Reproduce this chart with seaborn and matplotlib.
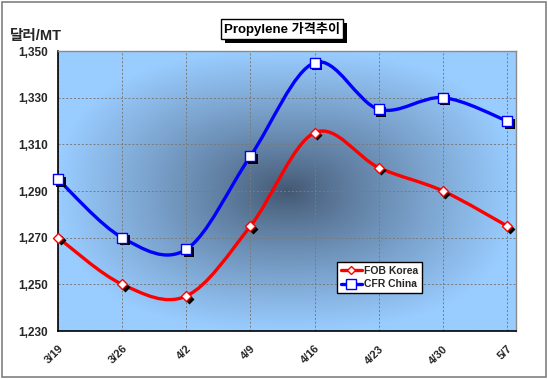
import numpy as np
import pandas as pd
import matplotlib
matplotlib.use("Agg")
import matplotlib.pyplot as plt
import matplotlib.transforms as mtransforms
from matplotlib.path import Path
from matplotlib.patches import PathPatch, Rectangle
from matplotlib.lines import Line2D
import seaborn as sns

# data
dates = ["3/19", "3/26", "4/2", "4/9", "4/16", "4/23", "4/30", "5/7"]
fob_korea = [1270, 1250, 1245, 1275, 1315, 1300, 1290, 1275]
cfr_china = [1295, 1270, 1265, 1305, 1345, 1325, 1330, 1320]
y_ticks = [1230, 1250, 1270, 1290, 1310, 1330, 1350]

sns.set_style("white")
plt.rcParams["font.family"] = ["Liberation Sans", "Noto Sans CJK KR", "DejaVu Sans"]

df = pd.DataFrame({"date": dates, "x": range(len(dates)),
                   "FOB Korea": fob_korea, "CFR China": cfr_china})

fig = plt.figure(figsize=(5.48, 3.79), dpi=100)
ax = fig.add_axes([58 / 548, 1 - 331 / 379, 457.5 / 548, 280 / 379])
ax.set_xlim(0, 7.13)
ax.set_ylim(1230, 1350)

# gradient background, dark in the middle, light blue at the edges
h, w = 200, 300
yy, xx = np.mgrid[0:h, 0:w]
dx = np.abs(xx / (w - 1) - 0.5) / 0.5
dy = np.abs(yy / (h - 1) - 0.5) / 0.5
d = np.clip((dx ** 2.5 + dy ** 2.5) ** (1 / 2.5), 0, 1) ** 0.85
center = np.array([66, 86, 112]) / 255
edge = np.array([153, 204, 255]) / 255
img = center + (edge - center) * d[..., None]
ax.imshow(img, extent=[0, 7.13, 1230, 1350], aspect="auto", zorder=0,
          interpolation="bilinear")

ax.grid(True, color="#7a7a7a", linestyle=(0, (2, 2)), linewidth=0.7, zorder=1)
ax.set_xticks(range(len(dates)))
ax.set_xticklabels(dates, rotation=45, ha="right", rotation_mode="anchor",
                   fontsize=8, fontweight="bold")
ax.set_yticks(y_ticks)
ax.set_yticklabels([f"{v:,}" for v in y_ticks], fontsize=8.5, fontweight="bold")
ax.tick_params(axis="both", length=0, pad=7)
ax.tick_params(axis="x", pad=9)
for s in ["left", "bottom"]:
    ax.spines[s].set_color("black")
    ax.spines[s].set_linewidth(1.2)
for s in ["top", "right"]:
    ax.spines[s].set_color("#8a8a8a")
    ax.spines[s].set_linewidth(1.0)


def smooth_path(xs, ys):
    # Excel style smoothed line: bezier segments with catmull-rom handles
    pts = np.column_stack([xs, ys]).astype(float)
    ext = np.vstack([pts[0], pts, pts[-1]])
    verts = [pts[0]]
    codes = [Path.MOVETO]
    for i in range(len(pts) - 1):
        p0, p1, p2, p3 = ext[i], ext[i + 1], ext[i + 2], ext[i + 3]
        verts += [p1 + (p2 - p0) / 6, p2 - (p3 - p1) / 6, p2]
        codes += [Path.CURVE4] * 3
    return Path(verts, codes)


shadow = ax.transData + mtransforms.ScaledTranslation(2.5 / 100, -2.5 / 100, fig.dpi_scale_trans)

for col, color, marker, size in [("FOB Korea", "#ff0000", "D", 26),
                                 ("CFR China", "#0000ff", "s", 60)]:
    ax.add_patch(PathPatch(smooth_path(df["x"], df[col]), fill=False,
                           edgecolor=color, linewidth=2.4, zorder=3,
                           capstyle="round"))
    ax.scatter(df["x"], df[col], marker=marker, s=size, color="black",
               transform=shadow, zorder=4, linewidths=0, clip_on=False)
    sns.scatterplot(data=df, x="x", y=col, marker=marker, s=size, color="white",
                    edgecolor=color, linewidth=1.0, zorder=5, ax=ax, clip_on=False)

ax.set_xlabel("")
ax.set_ylabel("")

handles = [Line2D([], [], color="#ff0000", lw=2.4, marker="D", markersize=4.5,
                  markerfacecolor="white", markeredgecolor="#ff0000", label="FOB Korea"),
           Line2D([], [], color="#0000ff", lw=2.4, marker="s", markersize=6.5,
                  markerfacecolor="white", markeredgecolor="#0000ff", label="CFR China")]
leg = ax.legend(handles=handles, loc="upper left", bbox_to_anchor=(0.61, 0.246),
                frameon=True, fancybox=False, edgecolor="black", framealpha=1,
                prop={"size": 7.5, "weight": "bold"}, handlelength=2.0,
                handletextpad=0.2, borderpad=0.35, labelspacing=0.35,
                borderaxespad=0)
leg.get_frame().set_linewidth(1.0)

# title box with a drop shadow
title = fig.text(282 / 548, 1 - 29 / 379, "Propylene 가격추이", ha="center", va="center",
                 fontsize=9.5, fontweight="bold", color="black", zorder=5,
                 bbox=dict(boxstyle="square,pad=0.25", facecolor="white", edgecolor="black",
                           linewidth=1.0))
fig.canvas.draw()
bb = title.get_bbox_patch().get_window_extent().transformed(fig.transFigure.inverted())
fig.patches.append(Rectangle((bb.x0 + 4 / 548, bb.y0 - 4 / 379), bb.width, bb.height,
                             transform=fig.transFigure, facecolor="black",
                             edgecolor="none", zorder=1))

fig.text(10 / 548, 1 - 36 / 379, "달러/MT", ha="left", va="center",
         fontsize=10.5, fontweight="bold")

fig.patches.append(Rectangle((0.003, 0.004), 0.993, 0.992, transform=fig.transFigure,
                             fill=False, edgecolor="#808080", linewidth=1.2))

fig.savefig("out.png", dpi=100)
